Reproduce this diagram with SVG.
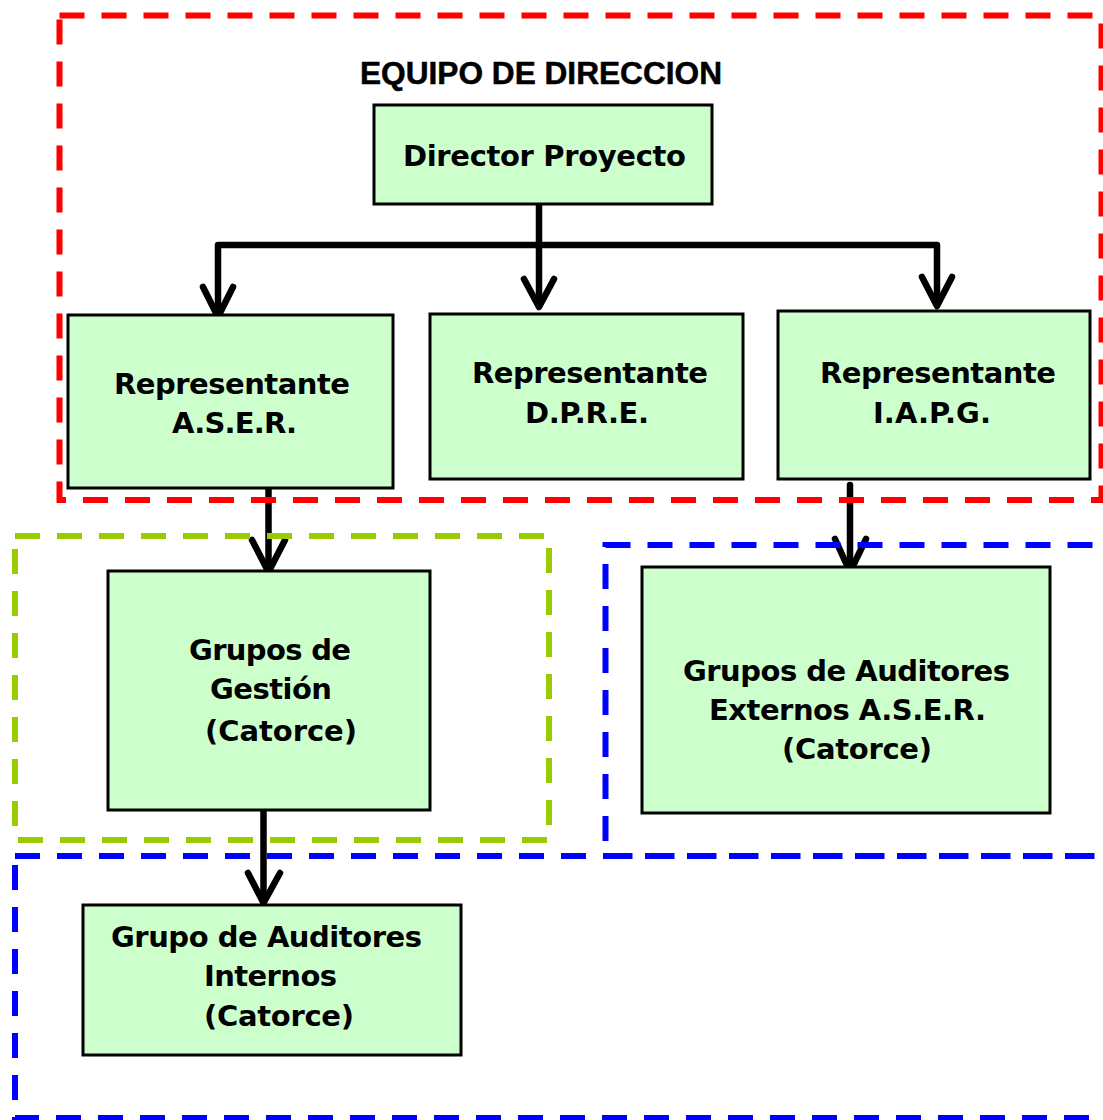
<svg xmlns="http://www.w3.org/2000/svg" width="1103" height="1120" viewBox="0 0 1103 1120">
<defs>
<style>
.node rect{fill:#CCFFCC;stroke:#000;stroke-width:3}
.node text{font-family:"DejaVu Sans","Liberation Sans",sans-serif;font-weight:bold;font-size:29px;fill:#000}
.title{font-family:"Liberation Sans",Arial,sans-serif;font-weight:bold;font-size:31px;fill:#000;stroke:#000;stroke-width:0.5}
.conn{fill:none;stroke:#000;stroke-width:6.5;stroke-linecap:round;stroke-linejoin:round}
.box{fill:none;stroke-width:6;stroke-dasharray:25 17}
</style>
</defs>
<rect width="1103" height="1120" fill="#fff"/>
<g id="connectors">
<line class="conn" x1="539" y1="204" x2="539" y2="245" stroke-linecap="butt"/>
<polyline class="conn" points="218,312 218,245 937,245 937,304" stroke-width="8" stroke-linejoin="miter" stroke-linecap="butt"/>
<line class="conn" x1="539" y1="245" x2="539" y2="305"/>
<polyline class="conn" points="203,287 218,317 233,287"/>
<polyline class="conn" points="524,279 539,307 554,279"/>
<polyline class="conn" points="922,277 937,306 952,277"/>
<line class="conn" x1="268.5" y1="488" x2="268.5" y2="570" stroke-linecap="butt"/>
<polyline class="conn" points="252,540 268.5,572 285,540"/>
<line class="conn" x1="850" y1="485" x2="850" y2="570" stroke-linecap="butt"/>
<polyline class="conn" points="835,539 850,572 866,539"/>
<line class="conn" x1="263.5" y1="810" x2="263.5" y2="901" stroke-linecap="butt"/>
<polyline class="conn" points="248,873 263.5,903 280,873"/>
</g>
<g id="n-director" class="node">
<rect x="374" y="105" width="338" height="99"/>
<text x="403" y="166" textLength="283">Director Proyecto</text>
</g>
<g id="n-aser" class="node">
<rect x="68" y="315" width="325" height="173"/>
<text x="114" y="394" textLength="236">Representante</text>
<text x="172" y="433" textLength="125">A.S.E.R.</text>
</g>
<g id="n-dpre" class="node">
<rect x="430" y="314" width="313" height="165"/>
<text x="472" y="383" textLength="236">Representante</text>
<text x="525" y="423" textLength="124">D.P.R.E.</text>
</g>
<g id="n-iapg" class="node">
<rect x="778" y="311" width="312" height="168"/>
<text x="820" y="383" textLength="236">Representante</text>
<text x="873" y="423" textLength="118">I.A.P.G.</text>
</g>
<g id="n-gestion" class="node">
<rect x="108" y="571" width="322" height="239"/>
<text x="189" y="660" textLength="162">Grupos de</text>
<text x="210" y="699" textLength="122">Gestión</text>
<text x="205" y="741" textLength="152">(Catorce)</text>
</g>
<g id="n-externos" class="node">
<rect x="642" y="567" width="408" height="246"/>
<text x="683" y="681" textLength="327">Grupos de Auditores</text>
<text x="709" y="720" textLength="277">Externos A.S.E.R.</text>
<text x="782" y="759" textLength="150">(Catorce)</text>
</g>
<g id="n-internos" class="node">
<rect x="83" y="905" width="378" height="150"/>
<text x="111" y="947" textLength="311">Grupo de Auditores</text>
<text x="204" y="986" textLength="133">Internos</text>
<text x="204" y="1026" textLength="150">(Catorce)</text>
</g>
<g id="groups">
<rect class="box" x="59.5" y="15.5" width="1042" height="484.5" stroke="#FF0000"/>
<text class="title" x="360" y="84" textLength="362" lengthAdjust="spacingAndGlyphs">EQUIPO DE DIRECCION</text>
<rect class="box" x="15" y="536" width="534" height="304" stroke="#99CC00" stroke-width="5"/>
<rect class="box" x="605.5" y="545" width="530" height="311" stroke="#0000FF"/>
<rect class="box" x="15" y="856" width="1120" height="262" stroke="#0000FF"/>
</g>
</svg>
